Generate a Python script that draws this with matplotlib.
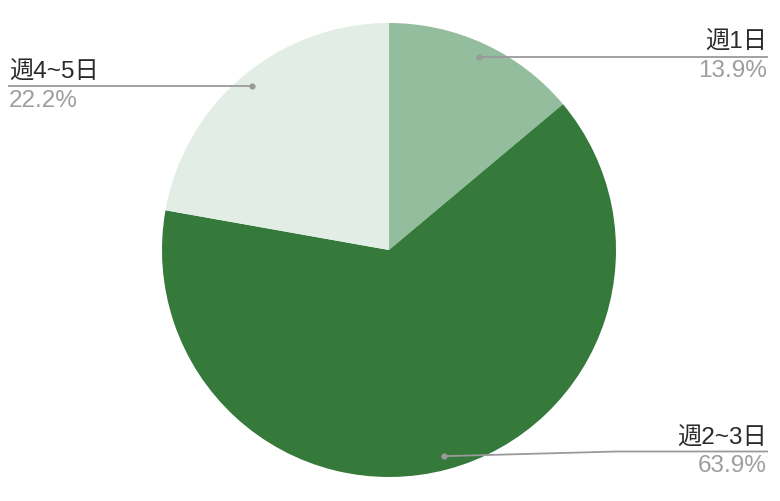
import matplotlib
matplotlib.use("Agg")
import matplotlib.pyplot as plt
import numpy as np

categories = ["週1日", "週2~3日", "週4~5日"]
values = [13.9, 63.9, 22.2]
colors = ["#93bd9c", "#35793b", "#e2eee5"]

W, H = 780, 501
fig = plt.figure(figsize=(W / 100, H / 100), dpi=100)
ax = fig.add_axes([0, 0, 1, 1])

cx, cy, R = 389, H - 250, 227
wedges, _ = ax.pie(values, colors=colors, startangle=90, counterclock=False,
                   center=(cx, cy), radius=R, frame=True,
                   wedgeprops=dict(linewidth=0))
ax.set_xlim(0, W)
ax.set_ylim(0, H)
ax.set_aspect("equal")
ax.axis("off")

fam = ["Liberation Sans", "Noto Sans CJK JP", "DejaVu Sans"]
line_c = "#9a9a9a"

# (line y from top, x end, side, bend x or None)
label_pos = [(56, 768, "right", None), (451.5, 768, "right", 617), (85.5, 8, "left", None)]

for w, cat, val, (ly, lx, side, bend) in zip(wedges, categories, values, label_pos):
    ang = np.deg2rad((w.theta1 + w.theta2) / 2)
    dx = cx + 0.94 * R * np.cos(ang)
    dy = cy + 0.94 * R * np.sin(ang)
    ly_d = H - ly
    ax.plot([dx], [dy], "o", color=line_c, markersize=4.5, zorder=5,
            markeredgewidth=0)
    if bend is not None:
        ax.plot([dx, bend, lx], [dy, ly_d, ly_d], color=line_c, lw=1.3, zorder=4,
                solid_capstyle="butt")
    else:
        ax.plot([dx, lx], [dy, dy], color=line_c, lw=1.3, zorder=4,
                solid_capstyle="butt")
    ha = "right" if side == "right" else "left"
    tx = lx - 1 if side == "right" else lx + 1
    ax.text(tx, ly_d + 7, cat, ha=ha, va="baseline", fontsize=17.5,
            color="#2a2a2a", family=fam)
    ax.text(tx, ly_d - 21, f"{val}%", ha=ha, va="baseline", fontsize=17.5,
            color="#9e9e9e", family=fam)

fig.savefig("out.png", dpi=100)
